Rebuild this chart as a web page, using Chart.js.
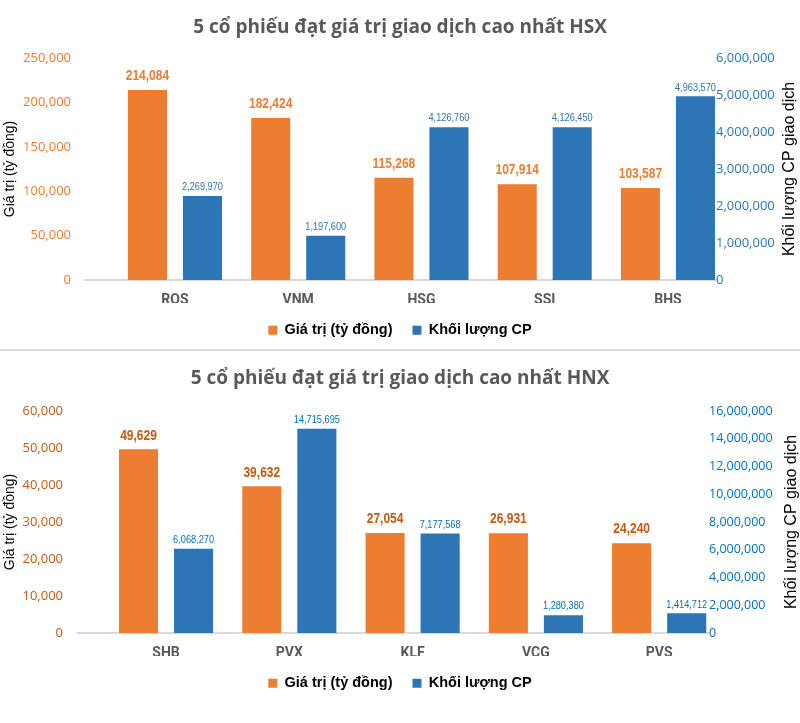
<!DOCTYPE html>
<html>
<head>
<meta charset="utf-8">
<script src="https://cdn.jsdelivr.net/npm/chart.js@4/dist/chart.umd.min.js"></script>
<style>
  body { margin: 0; background: #fff; }
  #wrap { position: relative; width: 800px; height: 723px; }
  #hsx { position: absolute; left: 0; top: 0; }
  #sep { position: absolute; left: 0; top: 349px; width: 800px; height: 2px; background: #dcdcdc; }
  #hnx { position: absolute; left: 0; top: 351px; }
</style>
</head>
<body>
<div id="wrap">
  <canvas id="hsx" width="800" height="349"></canvas>
  <div id="sep"></div>
  <canvas id="hnx" width="800" height="372"></canvas>
</div>
<script>
// HSX
const hsxStocks = ['ROS', 'VNM', 'HSG', 'SSI', 'BHS'];
const hsxValue = [214084, 182424, 115268, 107914, 103587];
const hsxVolume = [2269970, 1197600, 4126760, 4126450, 4963570];

// HNX
const hnxStocks = ['SHB', 'PVX', 'KLF', 'VCG', 'PVS'];
const hnxValue = [49629, 39632, 27054, 26931, 24240];
const hnxVolume = [6068270, 14715695, 7177568, 1280380, 1414712];

const seriesNames = ['Giá trị (tỷ đồng)', 'Khối lượng CP'];
const leftTitle = 'Giá trị (tỷ đồng)';
const rightTitle = 'Khối lượng CP giao dịch';

const ORANGE = '#ED7D31';
const BLUE = '#2E75B6';
const SANS = "'Liberation Sans', Arial, sans-serif";
const fmt = v => v.toLocaleString('en-US');

// value labels over the bars (squeezed a bit, the original uses a narrow face)
const barLabels = {
  id: 'barLabels',
  afterDatasetsDraw(chart, args, opts) {
    const ctx = chart.ctx;
    chart.data.datasets.forEach((ds, i) => {
      const meta = chart.getDatasetMeta(i);
      const st = opts.styles[i];
      meta.data.forEach((bar, j) => {
        ctx.save();
        ctx.font = st.font;
        ctx.fillStyle = st.color;
        ctx.textAlign = 'center';
        ctx.textBaseline = 'middle';
        ctx.translate(bar.x, bar.y - st.gap);
        ctx.scale(0.8, 1);
        ctx.fillText(fmt(ds.data[j].y), 0, 0);
        ctx.restore();
      });
    });
  }
};

// axis titles, both reading bottom to top
const axisTitles = {
  id: 'axisTitles',
  afterDraw(chart, args, opts) {
    const {ctx, chartArea} = chart;
    const cy = (chartArea.top + chartArea.bottom) / 2;
    [[leftTitle, opts.leftX, 14], [rightTitle, opts.rightX, 16]].forEach(([text, x, size]) => {
      ctx.save();
      ctx.fillStyle = '#000';
      ctx.textAlign = 'center';
      ctx.textBaseline = 'middle';
      ctx.font = size + 'px ' + SANS;
      ctx.translate(x, cy);
      ctx.rotate(-Math.PI / 2);
      ctx.fillText(text, 0, 0);
      ctx.restore();
    });
  }
};

function makeChart(id, cfg) {
  const pts = arr => arr.map((v, i) => ({ x: i, y: v }));
  return new Chart(document.getElementById(id), {
    type: 'bar',
    data: {
      datasets: [
        { label: seriesNames[0], data: pts(cfg.value), yAxisID: 'y', backgroundColor: ORANGE,
          categoryPercentage: 0.893, barPercentage: 0.71 },
        { label: seriesNames[1], data: pts(cfg.volume), yAxisID: 'y1', backgroundColor: BLUE,
          categoryPercentage: 0.893, barPercentage: 0.71 }
      ]
    },
    options: {
      responsive: false,
      animation: false,
      layout: { padding: { left: 0, right: 0, top: 0, bottom: cfg.padBottom } },
      scales: {
        x: {
          type: 'linear', min: cfg.xMin, max: cfg.xMax, offset: false,
          grid: { display: false, drawTicks: false, offset: false },
          border: { display: true, color: '#d9d9d9', width: 2 },
          ticks: { stepSize: 1, includeBounds: false, color: '#595959', padding: 12,
                   font: { family: 'Roboto, sans-serif', size: 14, weight: 'bold' },
                   callback: v => cfg.labels[v] ?? '' },
          afterFit: s => { s.height = 23; }
        },
        y: {
          position: 'left', min: 0, max: cfg.leftMax,
          grid: { display: false, drawTicks: false },
          border: { display: false },
          ticks: { stepSize: cfg.leftStep, color: cfg.leftColor, padding: cfg.leftPad,
                   font: { family: "'Open Sans', sans-serif", size: 13 }, callback: v => fmt(v) },
          afterFit: s => { s.width = cfg.leftWidth; }
        },
        y1: {
          position: 'right', min: 0, max: cfg.rightMax,
          grid: { display: false, drawTicks: false },
          border: { display: false },
          ticks: { stepSize: cfg.rightStep, color: cfg.rightColor, padding: 0,
                   font: { family: "'Open Sans', sans-serif", size: cfg.rightSize }, callback: v => fmt(v) },
          afterFit: s => { s.width = cfg.rightWidth; }
        }
      },
      plugins: {
        title: {
          display: true, text: cfg.title, color: '#595959',
          font: { family: "'Open Sans', sans-serif", size: 19, weight: 'bold' },
          padding: { top: 16, bottom: cfg.titleGap }
        },
        legend: {
          position: 'bottom',
          labels: { color: '#000', boxWidth: 9, boxHeight: 9, padding: 20,
                    font: { family: SANS, size: 14.5, weight: 'bold' } }
        },
        tooltip: { enabled: false },
        barLabels: { styles: [
          { font: 'bold 15px ' + SANS, color: cfg.valueLabelColor, gap: 14 },
          { font: '11.5px ' + SANS, color: cfg.rightColor, gap: 9 }
        ] },
        axisTitles: { leftX: 10, rightX: cfg.rightTitleX }
      }
    },
    plugins: [barLabels, axisTitles]
  });
}

makeChart('hsx', {
  labels: hsxStocks, value: hsxValue, volume: hsxVolume,
  title: '5 cổ phiếu đạt giá trị giao dịch cao nhất HSX',
  xMin: -0.73, xMax: 4.39,
  leftMax: 250000, leftStep: 50000, rightMax: 6000000, rightStep: 1000000, rightSize: 13,
  leftColor: ORANGE, rightColor: BLUE, valueLabelColor: ORANGE,
  leftWidth: 85, rightWidth: 84, leftPad: 14,
  titleGap: 19.2, padBottom: 1.5, rightTitleX: 790
});

makeChart('hnx', {
  labels: hnxStocks, value: hnxValue, volume: hnxVolume,
  title: '5 cổ phiếu đạt giá trị giao dịch cao nhất HNX',
  xMin: -0.714, xMax: 4.404,
  leftMax: 60000, leftStep: 10000, rightMax: 16000000, rightStep: 2000000, rightSize: 12.5,
  leftColor: '#C55A11', rightColor: '#0070C0', valueLabelColor: '#C55A11',
  leftWidth: 78, rightWidth: 91, leftPad: 15,
  titleGap: 21.2, padBottom: 22.5, rightTitleX: 792
});
</script>
</body>
</html>
